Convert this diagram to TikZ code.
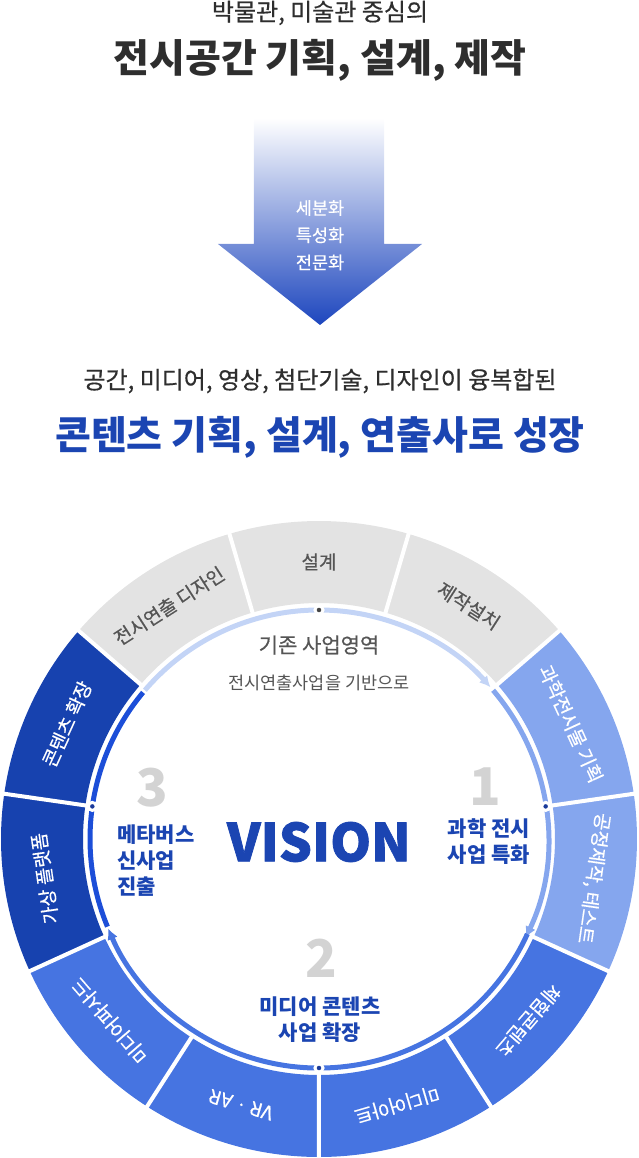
\documentclass[tikz,border=0pt]{standalone}
\usepackage{fontspec}
\setmainfont{Noto Sans CJK KR}
\newfontfamily\medfont{Noto Sans CJK KR}[FakeBold=0.5]
\usetikzlibrary{positioning,arrows.meta}
\definecolor{segGray}{HTML}{E3E3E3}
\definecolor{segLight}{HTML}{85A6EE}
\definecolor{segMid}{HTML}{4674E1}
\definecolor{segDark}{HTML}{1742AF}
\definecolor{arcLight}{HTML}{C3D4F6}
\definecolor{arcDark}{HTML}{1C4ED8}
\definecolor{titleBlue}{HTML}{1B45B2}
\definecolor{numGray}{HTML}{D3D3D3}
\definecolor{textDark}{HTML}{2E2E2E}
\definecolor{textGray}{HTML}{555555}
\definecolor{dotGray}{HTML}{444444}
\definecolor{dotNavy}{HTML}{1A3A9A}
\definecolor{arrowBlue}{HTML}{1D46BE}
\tikzset{
	subhead/.style={font=\medfont\fontsize{24}{28}\selectfont, text=textDark, inner sep=0pt},
	headline/.style={font=\bfseries\fontsize{39}{42}\selectfont, inner sep=0pt},
	arrowtext/.style={font=\medfont\fontsize{17.5}{18}\selectfont, text=white, inner sep=0pt},
	seglabel/.style={font=\medfont\fontsize{19}{20}\selectfont, inner sep=0pt},
	sep/.style={white, line width=4pt},
	ringarc/.style={line width=5pt},
	dotmark/.style={circle, inner sep=0pt, minimum size=8pt, draw=white, line width=3pt},
	bignum/.style={font=\bfseries\fontsize{52}{52}\selectfont, text=numGray, inner sep=0pt},
	numlabel/.style={font=\bfseries\fontsize{21}{26}\selectfont, text=titleBlue, inner sep=0pt}
}

\begin{document}
\begin{tikzpicture}[x=1pt, y=1pt]
	\useasboundingbox (-319,-319) rectangle (319,839);
	\node[subhead] (sub1) at (1,826) {박물관, 미술관 중심의};
	\node[headline, text=textDark] (head1) at (1,779) {전시공간 기획, 설계, 제작};
	\shade[top color=white, bottom color=arrowBlue] (-65,721) -- (65,721) -- (65,595) -- (103,595) -- (1,514) -- (-101,595) -- (-65,595) -- cycle;
	\node[arrowtext] (fine) at (1,631) {세분화};
	\node[arrowtext, below=11pt of fine] (special) {특성화};
	\node[arrowtext, below=11pt of special] (expert) {전문화};
	\node[subhead] (sub2) at (1,458) {공간, 미디어, 영상, 첨단기술, 디자인이 융복합된};
	\node[headline, text=titleBlue] (head2) at (1,402) {콘텐츠 기획, 설계, 연출사로 성장};

	\foreach \lab/\col/\txt [count=\k from 0] in {
		설계/segGray/textGray,
		제작설치/segGray/textGray,
		과학전시물 기획/segLight/white,
		{공정제작, 테스트}/segLight/white,
		체험콘텐츠/segMid/white,
		미디어아트/segMid/white,
		VR · AR/segMid/white,
		미디어파사드/segMid/white,
		가상 플랫폼/segDark/white,
		콘텐츠 확장/segDark/white,
		전시연출 디자인/segGray/textGray}
	{
		\pgfmathsetmacro\sa{106.36-32.727*\k}
		\pgfmathsetmacro\ma{\sa-16.36}
		\fill[\col] (\sa:236) arc[start angle=\sa, delta angle=-32.727, radius=236] -- ({\sa-32.727}:318) arc[start angle={\sa-32.727}, delta angle=32.727, radius=318] -- cycle;
		\node[seglabel, text=\txt, rotate=\ma-90] (seg\k) at (\ma:277) {\lab};
	}
	\foreach \k in {0,...,10}
		\draw[sep] ({106.36-32.727*\k}:232) -- ({106.36-32.727*\k}:322);

	\draw[ringarc, arcLight, -{Latex[length=11pt,width=11pt]}] (139.5:229) arc[start angle=139.5, end angle=41.5, radius=229];
	\draw[ringarc, segLight, -{Latex[length=11pt,width=11pt]}] (40.5:229) arc[start angle=40.5, end angle=-25.5, radius=229];
	\draw[ringarc, segMid, -{Latex[length=11pt,width=11pt]}] (-24.5:229) arc[start angle=-24.5, end angle=-157, radius=229];
	\draw[ringarc, arcDark] (202.5:229) arc[start angle=202.5, end angle=140.2, radius=229];
	\node[dotmark, fill=dotGray] (dot0) at (90:229) {};
	\node[dotmark, fill=dotNavy] (dot1) at (8.18:229) {};
	\node[dotmark, fill=dotNavy] (dot2) at (-90:229) {};
	\node[dotmark, fill=dotNavy] (dot3) at (171.82:229) {};

	\node[font=\medfont\fontsize{21}{21}\selectfont, text=textGray, inner sep=0pt] (base) at (0,194) {기존 사업영역};
	\node[font=\fontsize{17.5}{17.5}\selectfont, text=textGray, inner sep=0pt] (basesub) at (0,156) {전시연출사업을 기반으로};
	\node[font=\bfseries\addfontfeatures{FakeBold=1.5}\fontsize{52}{52}\selectfont, text=titleBlue, inner sep=0pt] (vision) at (0,-3) {VISION};
	\node[bignum] (num1) at (166,52) {1};
	\node[numlabel, align=center] (lab1) at (170,-3) {과학 전시\\사업 특화};
	\node[bignum] (num2) at (2,-119) {2};
	\node[numlabel, align=center] (lab2) at (1,-181) {미디어 콘텐츠\\사업 확장};
	\node[bignum] (num3) at (-167,51) {3};
	\node[numlabel, align=left, anchor=west] (lab3) at (-202,-22) {메타버스\\신사업\\진출};
\end{tikzpicture}
\end{document}
